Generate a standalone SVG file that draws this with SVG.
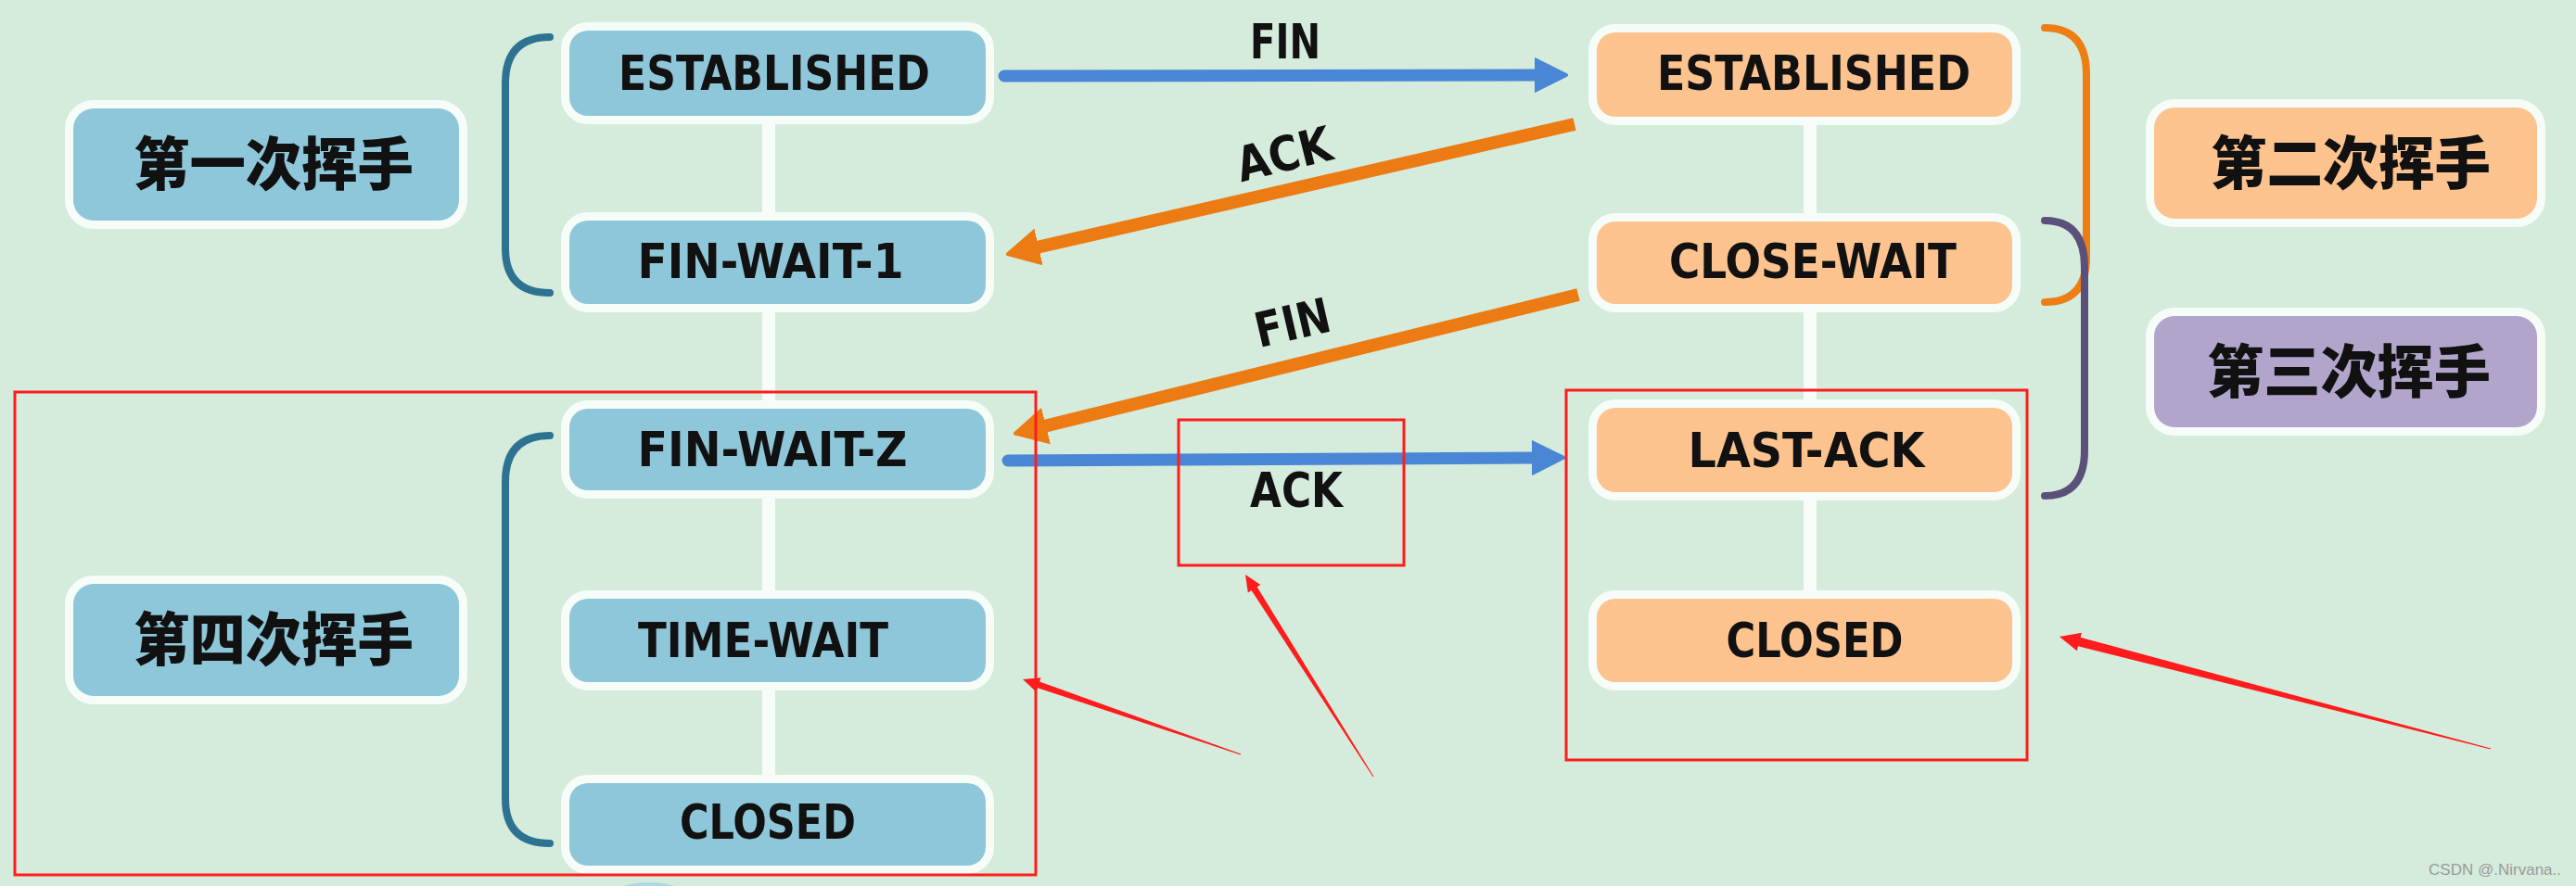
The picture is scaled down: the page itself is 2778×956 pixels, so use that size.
<svg xmlns="http://www.w3.org/2000/svg" width="2778" height="956" viewBox="0 0 2778 956">
<defs>
<style>
.bg{fill:#d5ebdc}
.box{stroke:#f6fcf8;stroke-width:18;paint-order:stroke}
.blue{fill:#8fc7da}
.orange{fill:#fdc38f}
.purple{fill:#b2a5cb}
.t{font-family:"DejaVu Sans Condensed","DejaVu Sans","Liberation Sans",sans-serif;font-weight:bold;font-size:52px;fill:#111;text-anchor:middle}
.cjk{font-family:"Noto Sans CJK SC","Noto Sans CJK JP",sans-serif;font-weight:900;font-size:62px;fill:#111;text-anchor:middle}
.vline{stroke:#f6fcf8;stroke-width:14}
.bracket{fill:none;stroke-width:8;stroke-linecap:round}
.arrB{stroke:#4a86d6;stroke-width:13;stroke-linecap:round;fill:none}
.arrO{stroke:#ec7b14;stroke-width:14;stroke-linecap:butt;fill:none}
.red{fill:none;stroke:#ff1c1c;stroke-width:3}
.redf{fill:#ff1c1c}
</style>
<marker id="hB" viewBox="0 -20 40 40" markerUnits="userSpaceOnUse" markerWidth="40" markerHeight="40" refX="2" refY="0" orient="auto">
<path d="M0,-17 L34,0 L0,17 Z" fill="#4a86d6" stroke="#4a86d6" stroke-width="4" stroke-linejoin="round"/>
</marker>
<marker id="hO" viewBox="0 -20 40 40" markerUnits="userSpaceOnUse" markerWidth="40" markerHeight="40" refX="2" refY="0" orient="auto">
<path d="M0,-18 L34,0 L0,18 Z" fill="#ec7b14" stroke="#ec7b14" stroke-width="4" stroke-linejoin="round"/>
</marker>
</defs>
<rect class="bg" x="0" y="0" width="2778" height="956"/>
<ellipse cx="700" cy="978" rx="52" ry="26" fill="#a9d8e4"/>

<g id="connectors">
<line class="vline" x1="829" y1="125" x2="829" y2="845"/>
<line class="vline" x1="1952" y1="126" x2="1952" y2="646"/>
<path class="bracket" stroke="#2d7391" d="M593,40 Q545,40 545,90 L545,268 Q545,316 593,316"/>
<path class="bracket" stroke="#2d7391" d="M593,470 Q545,470 545,520 L545,862 Q545,910 593,910"/>
<path class="bracket" stroke="#ee7d14" d="M2205,30 Q2250,30 2250,80 L2250,278 Q2250,326 2205,326"/>
<path class="bracket" stroke="#5b5079" d="M2205,238 Q2248,238 2248,288 L2248,486 Q2248,535 2205,535"/>
<line class="arrB" x1="1083" y1="82" x2="1657" y2="81" marker-end="url(#hB)"/>
<line class="arrO" x1="1698" y1="134" x2="1118" y2="267" marker-end="url(#hO)"/>
<line class="arrO" x1="1702" y1="318" x2="1126" y2="460" marker-end="url(#hO)"/>
<line class="arrB" x1="1087" y1="497" x2="1654" y2="494" marker-end="url(#hB)"/>
<text class="t" x="1386" y="63" font-size="50" textLength="76" lengthAdjust="spacingAndGlyphs">FIN</text>
<text class="t" x="1389" y="184" textLength="104" lengthAdjust="spacingAndGlyphs" transform="rotate(-14 1389 184)">ACK</text>
<text class="t" x="1398" y="366" textLength="82" lengthAdjust="spacingAndGlyphs" transform="rotate(-13 1398 366)">FIN</text>
<text class="t" x="1398" y="547" font-size="53" textLength="100" lengthAdjust="spacingAndGlyphs">ACK</text>
</g>

<g id="lbl-1"><rect class="box blue" x="79" y="117" width="416" height="121" rx="22"/><text class="cjk" x="295" y="200" textLength="302" lengthAdjust="spacingAndGlyphs">第一次挥手</text></g>
<g id="lbl-4"><rect class="box blue" x="79" y="630" width="416" height="121" rx="22"/><text class="cjk" x="295" y="713" textLength="302" lengthAdjust="spacingAndGlyphs">第四次挥手</text></g>
<g id="lbl-2"><rect class="box orange" x="2323" y="116" width="413" height="120" rx="22"/><text class="cjk" x="2535" y="199" textLength="302" lengthAdjust="spacingAndGlyphs">第二次挥手</text></g>
<g id="lbl-3"><rect class="box purple" x="2323" y="341" width="413" height="120" rx="22"/><text class="cjk" x="2533" y="424" textLength="306" lengthAdjust="spacingAndGlyphs">第三次挥手</text></g>

<g id="n-est-l"><rect class="box blue" x="614" y="33" width="449" height="92" rx="20"/><text class="t" x="835" y="97" textLength="336" lengthAdjust="spacingAndGlyphs">ESTABLISHED</text></g>
<g id="n-fw1"><rect class="box blue" x="614" y="238" width="449" height="90" rx="20"/><text class="t" x="831" y="300" textLength="287" lengthAdjust="spacingAndGlyphs">FIN-WAIT-1</text></g>
<g id="n-fw2"><rect class="box blue" x="614" y="441" width="449" height="88" rx="20"/><text class="t" x="833" y="503" textLength="291" lengthAdjust="spacingAndGlyphs">FIN-WAIT-Z</text></g>
<g id="n-tw"><rect class="box blue" x="614" y="646" width="449" height="90" rx="20"/><text class="t" x="823" y="709" textLength="270" lengthAdjust="spacingAndGlyphs">TIME-WAIT</text></g>
<g id="n-closed-l"><rect class="box blue" x="614" y="845" width="449" height="89" rx="20"/><text class="t" x="828" y="905" textLength="190" lengthAdjust="spacingAndGlyphs">CLOSED</text></g>

<g id="n-est-r"><rect class="box orange" x="1722" y="35" width="448" height="91" rx="20"/><text class="t" x="1956" y="97" textLength="338" lengthAdjust="spacingAndGlyphs">ESTABLISHED</text></g>
<g id="n-cw"><rect class="box orange" x="1722" y="239" width="448" height="89" rx="20"/><text class="t" x="1955" y="300" textLength="310" lengthAdjust="spacingAndGlyphs">CLOSE-WAIT</text></g>
<g id="n-la"><rect class="box orange" x="1722" y="440" width="448" height="91" rx="20"/><text class="t" x="1948" y="504" textLength="255" lengthAdjust="spacingAndGlyphs">LAST-ACK</text></g>
<g id="n-closed-r"><rect class="box orange" x="1722" y="646" width="448" height="90" rx="20"/><text class="t" x="1957" y="709" textLength="191" lengthAdjust="spacingAndGlyphs">CLOSED</text></g>

<g id="annotations">
<rect class="red" x="16" y="423" width="1101" height="521"/>
<rect class="red" x="1271" y="453" width="243" height="157"/>
<rect class="red" x="1689" y="421" width="497" height="399"/>
<polygon class="redf" points="1103,733 1122.6,731.3 1121.1,735.6 1338.2,813.5 1337.8,814.5 1118.9,742.2 1117.4,746.5"/>
<polygon class="redf" points="1343,620 1359.4,630.9 1355.6,633.3 1481.4,837.7 1480.6,838.3 1349.6,637.1 1345.8,639.5"/>
<polygon class="redf" points="2221,687 2244.8,682.8 2243.6,687.7 2686.1,807.5 2685.9,808.5 2241,697.3 2239.8,702.2"/>
</g>
<text x="2762" y="944" font-family="Liberation Sans, sans-serif" font-size="17" fill="#9a9a9a" text-anchor="end">CSDN @.Nirvana..</text>
</svg>
